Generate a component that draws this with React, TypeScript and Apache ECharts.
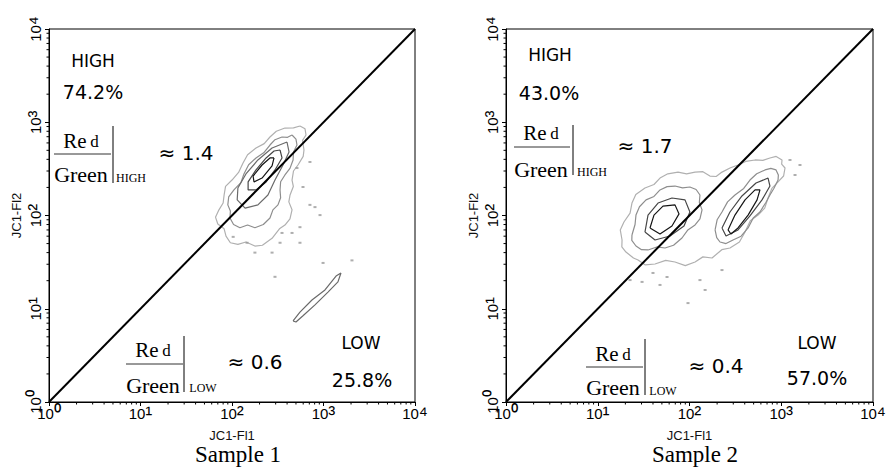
import React, { useEffect, useRef } from "react";
import * as echarts from "echarts";

// ---------- data ----------
const tickLabels = ["10⁰", "10¹", "10²", "10³", "10⁴"];
const axisMin = 1;
const axisMax = 10000;
const minorTickValues = [
  2, 3, 4, 5, 6, 7, 8, 9, 20, 30, 40, 50, 60, 70, 80, 90, 200, 300, 400, 500, 600, 700, 800, 900,
  2000, 3000, 4000, 5000, 6000, 7000, 8000, 9000,
];
const diagonal = [
  [1, 1],
  [10000, 10000],
];

// Sample 1 contour rings (JC1-Fl1, JC1-Fl2)
const s1Ring1 = [
  [553, 912], [628, 850], [644, 730], [590, 640], [612, 504], [600, 430], [526, 348], [470, 300],
  [453, 240], [468, 205], [431, 166], [418, 140], [453, 115], [430, 92], [379, 79], [330, 72],
  [274, 57], [215, 48], [178, 47], [142, 52], [116, 49], [96, 51], [86, 60], [82, 72], [70, 81],
  [66, 96], [72, 115], [80, 136], [82, 166], [85, 205], [100, 240], [118, 290], [132, 366],
  [148, 448], [183, 530], [225, 590], [260, 695], [305, 800], [379, 867], [470, 870], [553, 912],
];
const s1Ring2 = [
  [453, 730], [500, 660], [513, 570], [470, 480], [465, 394], [430, 320], [379, 272], [340, 230],
  [335, 188], [340, 155], [318, 130], [280, 115], [260, 94], [220, 80], [178, 74], [148, 79],
  [122, 74], [104, 80], [95, 94], [96, 112], [90, 130], [92, 158], [105, 188], [125, 225],
  [135, 279], [152, 350], [183, 414], [222, 470], [260, 570], [295, 650], [352, 695], [405, 690],
  [453, 730],
];
const s1Ring3 = [
  [399, 614], [420, 480], [361, 348], [295, 240], [247, 166], [192, 130], [139, 120], [114, 147],
  [116, 197], [142, 279], [192, 394], [274, 530], [399, 614],
];
const s1Ring4 = [
  [335, 504], [352, 414], [295, 308], [236, 229], [183, 188], [150, 188], [150, 229], [183, 308],
  [236, 414], [288, 492], [335, 504],
];
const s1Ring5 = [
  [288, 414], [274, 340], [213, 252], [174, 229], [170, 265], [213, 348], [260, 414], [288, 414],
];
const s1Tail = [
  [465, 7.4], [553, 9.2], [748, 12.4], [1038, 15.9], [1371, 22.4], [1552, 24.2], [1439, 19.4],
  [1119, 15.1], [807, 11.0], [597, 8.4], [500, 7.2], [465, 7.4],
];
const s1Dots = [
  [711, 375], [513, 323], [597, 202], [711, 130], [807, 123], [916, 101], [553, 75], [453, 65],
  [352, 65], [553, 51], [335, 51], [274, 40], [178, 40], [146, 51], [103, 59], [295, 22],
  [989, 31], [2047, 33],
];

// Sample 2 contour rings
const s2Ring1 = [
  [18.4, 54.6], [17.6, 70], [19.3, 85.1], [22.5, 106], [23.6, 136], [26, 168], [32.7, 197],
  [41, 215], [47.7, 252], [58, 280], [75.0, 292], [93, 280], [115, 292], [140, 295], [167, 265],
  [195, 262], [226, 292], [280, 325], [338, 348], [410, 380], [518, 394], [630, 390], [753, 414],
  [880, 430], [1019, 394], [1010, 355], [1099, 323], [1060, 265], [923, 229], [790, 195],
  [718, 154], [660, 120], [559, 101], [460, 88], [403, 66.5], [350, 52], [276, 44.8], [225, 43],
  [176, 35.0], [140, 36], [115, 31.7], [90, 29], [69.5, 31.7], [55, 33], [42.1, 30.2],
  [33, 29.5], [27.5, 33.3], [24.5, 35], [20.3, 40.6], [18.3, 46], [18.4, 54.6],
];
const s2LeftRing2 = [
  [23.6, 61.8], [25.5, 80], [26.1, 101], [28.5, 124], [33.6, 147], [41, 160], [47.7, 188],
  [57, 204], [69.5, 207], [84, 198], [101, 202], [118, 190], [130, 166], [128, 138], [137, 115],
  [130, 92], [115, 79.1], [96, 70], [82.8, 57.4], [67, 48], [54.1, 44.8], [44, 46], [35.3, 42.7],
  [30, 43], [26.1, 47.1], [23.5, 54], [23.6, 61.8],
];
const s2LeftRing3 = [
  [32.7, 66.5], [35.3, 101], [45.4, 136], [64.4, 154], [89.3, 147], [101, 109], [87.1, 77.1],
  [61.3, 60.3], [42.1, 54.6], [32.7, 66.5],
];
const s2LeftRing4 = [
  [37.1, 73.5], [41.0, 101], [51.4, 126], [69.5, 130], [76.9, 104], [64.4, 77.1], [47.7, 63.3], [37.1, 73.5],
];
const s2RightRing2 = [
  [190, 70.0], [200, 90], [226, 109], [260, 140], [313, 166], [390, 195], [456, 240], [540, 280],
  [665, 308], [770, 320], [877, 308], [930, 272], [923, 240], [830, 195], [753, 166], [680, 138],
  [586, 109], [495, 94], [435, 73.5], [365, 60], [298, 54.6], [250, 50], [215, 52.0], [198, 58],
  [190, 70.0],
];
const s2RightRing3 = [
  [226, 73.5], [276, 109], [373, 162], [531, 223], [718, 252], [753, 207], [617, 147], [456, 98.9],
  [338, 70.0], [250, 60.3], [226, 73.5],
];
const s2RightRing4 = [
  [263, 70.0], [313, 101], [403, 147], [518, 188], [586, 188], [545, 147], [435, 101], [338, 73.5],
  [283, 63.3], [263, 70.0],
];
const s2Dots = [
  [30.4, 19.4], [40.0, 24.2], [56.9, 21.9], [148, 15.9], [226, 26.0], [96.3, 11.5], [22.5, 20.3],
  [1245, 394], [1413, 272], [1600, 348], [130, 20.3], [47.7, 18.0],
];

const samples = ["Sample 1", "Sample 2"];
const highPct = ["74.2%", "43.0%"];
const lowPct = ["25.8%", "57.0%"];
const highRatio = ["≈ 1.4", "≈ 1.7"];
const lowRatio = ["≈ 0.6", "≈ 0.4"];

// ---------- chart ----------
const SANS = "'Liberation Sans', Arial, sans-serif";
const NARROW = "'Liberation Sans Narrow', 'Arial Narrow', 'Liberation Sans', sans-serif";
const VERD = "'DejaVu Sans', Verdana, sans-serif";
const SERIF = "'Liberation Serif', 'Times New Roman', serif";

const ringColors = ["#b0b0b0", "#8e8e8e", "#6a6a6a", "#474747", "#151515"];

function lineSeries(data: number[][], gi: number, color: string, z = 3) {
  return {
    type: "line",
    xAxisIndex: gi,
    yAxisIndex: gi,
    data,
    showSymbol: false,
    symbol: "none",
    silent: true,
    z,
    lineStyle: { color, width: 1.2 },
  };
}

function makeFraction(f: any) {
  return [
    {
      type: "text",
      x: f.cx,
      y: f.numY,
      style: {
        text: "{a|Re} {b|d}",
        rich: {
          a: { fontSize: 21, fontFamily: SERIF, fill: "#000" },
          b: { fontSize: 17, fontFamily: SERIF, fill: "#000" },
        },
        fontSize: 14,
        fontFamily: SERIF,
        fill: "#000",
        align: "center",
        verticalAlign: "middle",
      },
    },
    {
      type: "line",
      shape: { x1: f.x1, y1: f.lineY, x2: f.x2, y2: f.lineY },
      style: { stroke: "#333", lineWidth: 1 },
    },
    {
      type: "text",
      x: f.cx,
      y: f.denY,
      style: { text: "Green", fontSize: 22, fontFamily: SERIF, fill: "#000", align: "center", verticalAlign: "middle" },
    },
    {
      type: "line",
      shape: { x1: f.barX, y1: f.barY1, x2: f.barX, y2: f.barY2 },
      style: { stroke: "#000", lineWidth: 1 },
    },
    {
      type: "text",
      x: f.subX,
      y: f.subY,
      style: { text: f.sub, fontSize: 12, fontFamily: SERIF, fill: "#000", align: "center", verticalAlign: "middle" },
    },
  ];
}

function txt(x: number, y: number, text: string, fontSize: number, fontFamily: string) {
  return {
    type: "text",
    x,
    y,
    style: { text, fontSize, fontFamily, fill: "#000", align: "center", verticalAlign: "middle" },
  };
}

function buildOption() {
  const grids = [
    { left: 49, top: 29, width: 366, height: 373 },
    { left: 506, top: 29, width: 367, height: 373 },
  ].map((g) => ({ ...g, show: true, borderColor: "#000", borderWidth: 1, backgroundColor: "transparent" }));

  const fmt = (v: number) => {
    const label = tickLabels[Math.round(Math.log10(v))] ?? "";
    return `{n|${label.slice(0, 2)}}{s|${label.slice(2)}}`;
  };
  const tickRich = {
    n: { fontSize: 15, fontFamily: NARROW, color: "#000" },
    s: { fontSize: 21, fontFamily: NARROW, color: "#000" },
  };

  const xAxes = [0, 1].map((gi) => ({
    type: "log",
    logBase: 10,
    gridIndex: gi,
    min: axisMin,
    max: axisMax,
    name: "JC1-Fl1",
    nameLocation: "middle",
    nameGap: 24,
    nameTextStyle: { fontSize: 13, fontFamily: SANS, color: "#111" },
    axisLine: { show: true, lineStyle: { color: "#000", width: 1 } },
    axisTick: { show: true, length: 4, lineStyle: { color: "#000" } },
    axisLabel: { formatter: fmt, rich: tickRich, color: "#000", margin: 1, showMinLabel: true, showMaxLabel: true },
    splitLine: { show: false },
  }));
  const yAxes = [0, 1].map((gi) => ({
    type: "log",
    logBase: 10,
    gridIndex: gi,
    min: axisMin,
    max: axisMax,
    name: "JC1-Fl2",
    nameLocation: "middle",
    nameGap: 26,
    nameRotate: 90,
    nameTextStyle: { fontSize: 13, fontFamily: SANS, color: "#111" },
    axisLine: { show: true, lineStyle: { color: "#000", width: 1 } },
    axisTick: { show: true, length: 4, lineStyle: { color: "#000" } },
    axisLabel: { formatter: fmt, rich: tickRich, color: "#000", rotate: 90, margin: 3, showMinLabel: true, showMaxLabel: true },
    splitLine: { show: false },
  }));

  const minorTickSeries = [0, 1].map((gi) => ({
    type: "custom",
    xAxisIndex: gi,
    yAxisIndex: gi,
    silent: true,
    clip: false,
    z: 5,
    data: minorTickValues.map((v) => [v, v]),
    encode: { x: 0, y: 1 },
    renderItem: (_p: any, api: any) => {
      const v = api.value(0);
      const px = api.coord([v, axisMin]);
      const py = api.coord([axisMin, v]);
      return {
        type: "group",
        children: [
          { type: "line", shape: { x1: px[0], y1: px[1], x2: px[0], y2: px[1] + 2.5 }, style: { stroke: "#000", lineWidth: 1 } },
          { type: "line", shape: { x1: py[0] - 2.5, y1: py[1], x2: py[0], y2: py[1] }, style: { stroke: "#000", lineWidth: 1 } },
        ],
      };
    },
  }));

  const dotSeries = (data: number[][], gi: number) => ({
    type: "scatter",
    xAxisIndex: gi,
    yAxisIndex: gi,
    data,
    symbol: "rect",
    symbolSize: [3, 2],
    silent: true,
    z: 3,
    itemStyle: { color: "#9a9a9a" },
  });

  const series: any[] = [
    lineSeries(s1Ring1, 0, ringColors[0]),
    lineSeries(s1Ring2, 0, ringColors[1]),
    lineSeries(s1Ring3, 0, ringColors[2]),
    lineSeries(s1Ring4, 0, ringColors[3]),
    lineSeries(s1Ring5, 0, ringColors[4]),
    lineSeries(s1Tail, 0, ringColors[2]),
    dotSeries(s1Dots, 0),
    lineSeries(s2Ring1, 1, ringColors[0]),
    lineSeries(s2LeftRing2, 1, ringColors[1]),
    lineSeries(s2LeftRing3, 1, ringColors[3]),
    lineSeries(s2LeftRing4, 1, ringColors[4]),
    lineSeries(s2RightRing2, 1, ringColors[1]),
    lineSeries(s2RightRing3, 1, ringColors[3]),
    lineSeries(s2RightRing4, 1, ringColors[4]),
    dotSeries(s2Dots, 1),
    { ...lineSeries(diagonal, 0, "#000", 10), lineStyle: { color: "#000", width: 2 } },
    { ...lineSeries(diagonal, 1, "#000", 10), lineStyle: { color: "#000", width: 2 } },
    ...minorTickSeries,
  ];

  const graphic: any[] = [
    // Sample 1
    txt(93, 61, "HIGH", 17, VERD),
    txt(93, 92, highPct[0], 19, VERD),
    ...makeFraction({ cx: 81, numY: 141, lineY: 154, x1: 54, x2: 111, denY: 174, barX: 113, barY1: 126, barY2: 183, sub: "HIGH", subX: 131, subY: 178 }),
    txt(186, 153, highRatio[0], 20, VERD),
    ...makeFraction({ cx: 153, numY: 350, lineY: 364, x1: 126, x2: 183, denY: 385, barX: 184, barY1: 336, barY2: 392, sub: "LOW", subX: 203, subY: 388 }),
    txt(255, 362, lowRatio[0], 20, VERD),
    txt(361, 343, "LOW", 17, VERD),
    txt(362, 380, lowPct[0], 19, VERD),
    txt(238, 454, samples[0], 23, SERIF),
    // Sample 2
    txt(550, 55, "HIGH", 17, VERD),
    txt(549, 93, highPct[1], 19, VERD),
    ...makeFraction({ cx: 541, numY: 133, lineY: 147, x1: 514, x2: 570, denY: 169, barX: 573, barY1: 125, barY2: 175, sub: "HIGH", subX: 592, subY: 172 }),
    txt(645, 146, highRatio[1], 20, VERD),
    ...makeFraction({ cx: 613, numY: 354, lineY: 367, x1: 586, x2: 643, denY: 387, barX: 645, barY1: 339, barY2: 395, sub: "LOW", subX: 663, subY: 391 }),
    txt(716, 366, lowRatio[1], 20, VERD),
    txt(817, 343, "LOW", 17, VERD),
    txt(817, 378, lowPct[1], 19, VERD),
    txt(695, 454, samples[1], 23, SERIF),
  ];

  return {
    animation: false,
    backgroundColor: "#fff",
    grid: grids,
    xAxis: xAxes,
    yAxis: yAxes,
    series,
    graphic,
  };
}

export default function App() {
  const ref = useRef<HTMLDivElement>(null);
  useEffect(() => {
    if (!ref.current) return;
    const chart = echarts.init(ref.current, undefined, { renderer: "svg" });
    chart.setOption(buildOption() as any);
    return () => chart.dispose();
  }, []);
  return <div ref={ref} style={{ position: "absolute", left: 0, top: 0, width: 895, height: 470 }} />;
}
